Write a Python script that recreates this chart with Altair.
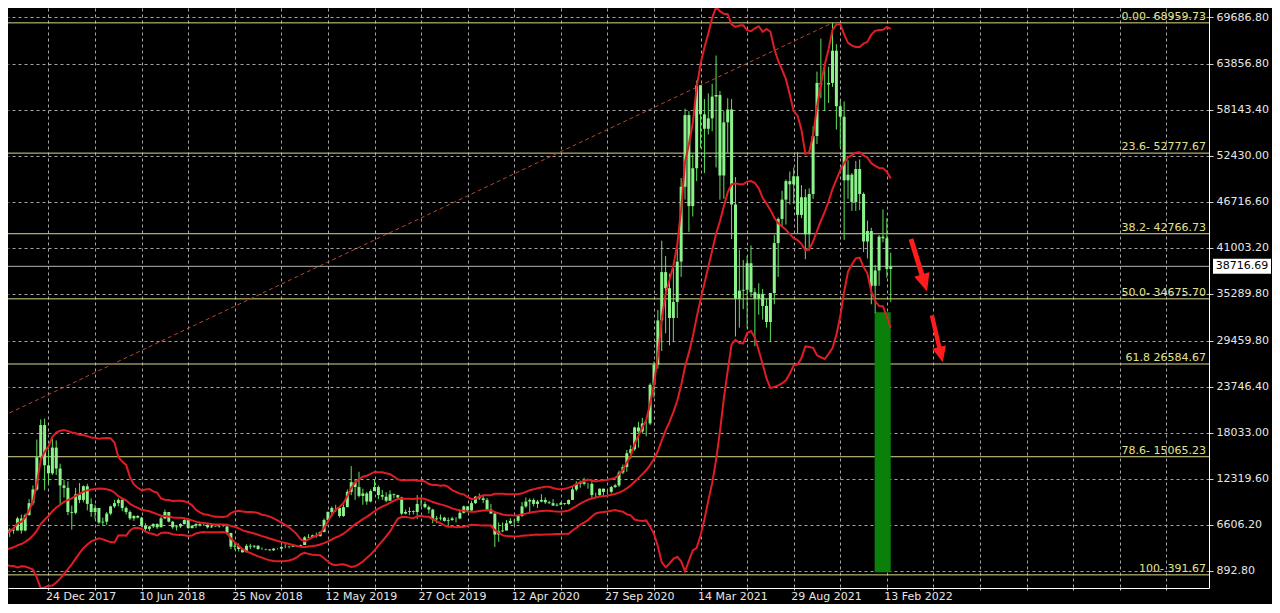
import altair as alt
import pandas as pd

# ---------------- weekly candles (week start Sunday 2017-06-04 .. 2022-02-20) -------------
first_open = 2500
closes_2017 = [2950, 2650, 2600, 2500, 2500, 2000, 2750, 2750, 3200, 4000, 4100, 4350, 4600, 4300, 3700, 3800,
               4350, 4600, 5700, 6000, 5900, 7400, 5900, 7800, 9300, 11000, 15000, 19000, 14000, 13000, 16200]
highs_2017 = [2980, 2980, 2780, 2650, 2650, 2550, 2900, 2800, 3280, 4100, 4480, 4400, 4980, 4700, 4350, 4100,
              4400, 4750, 5850, 6200, 6100, 7600, 7900, 8000, 9800, 11500, 17200, 19700, 19800, 15900, 17300]
lows_2017 = [2450, 2300, 2450, 2330, 2450, 1960, 1840, 2500, 2650, 3200, 3800, 3900, 4300, 4100, 2980, 3500,
             3700, 4150, 4550, 5100, 5500, 5900, 5500, 5800, 7800, 9000, 10800, 14800, 10900, 11800, 12800]

closes_2018 = [13600, 11500, 11200, 8200, 8100, 10400, 9700, 11400, 9200, 8200, 8700, 6900, 7000, 8000, 8900, 9300,
               9700, 8700, 8200, 7400, 7700, 7500, 6500, 6100, 6400, 6700, 6300, 7400, 8200, 7000, 6300, 6400,
               6700, 7200, 6200, 6500, 6700, 6600, 6600, 6300, 6400, 6450, 6400, 6400, 5600, 3900, 4000, 3600,
               3200, 4000, 3900, 4000]
highs_2018 = [17100, 14200, 12200, 12000, 9000, 11200, 11800, 11500, 11700, 9900, 9100, 8700, 7500, 8200, 9000, 9700,
              9900, 9800, 8900, 8400, 7800, 7800, 7600, 6800, 6500, 6800, 6800, 7600, 8500, 8200, 7100, 6600,
              6800, 7300, 7400, 6600, 6800, 6800, 6700, 6700, 6800, 6550, 6500, 6550, 6500, 5600, 4400, 4300,
              3600, 4200, 4250, 4100]
lows_2018 = [12800, 9200, 10000, 7800, 6000, 7900, 9300, 9400, 8400, 7600, 7300, 6700, 6500, 6600, 7800, 8700,
             8900, 8300, 7900, 7200, 7100, 7400, 6300, 5800, 5800, 6200, 6100, 6300, 7300, 6900, 6100, 5900,
             6200, 6650, 6100, 6150, 6200, 6400, 6500, 6150, 6250, 6400, 6250, 6350, 5400, 3600, 3500, 3300,
             3150, 3200, 3600, 3700]

closes_2019 = [3600, 3600, 3550, 3450, 3650, 3650, 3850, 3850, 3900, 4000, 4000, 4100, 5050, 5100, 5300, 5200,
               5700, 7200, 8200, 8700, 8700, 7700, 8800, 10700, 11900, 11300, 10200, 10500, 9500, 10800, 11300, 10300,
               10100, 9600, 10400, 10300, 10000, 8000, 8200, 8300, 8200, 9200, 9200, 8800, 8500, 7300, 7400, 7500,
               7100, 7200, 7400, 7400]
highs_2019 = [4100, 3800, 3650, 3550, 3700, 3700, 4000, 4200, 3950, 4050, 4100, 4150, 5200, 5450, 5400, 5650,
              5800, 7400, 8300, 8900, 9100, 8800, 9100, 11000, 13900, 12200, 13200, 11100, 10700, 11000, 12300, 11500,
              10950, 10650, 10900, 10500, 10350, 10100, 8500, 8800, 8400, 10300, 9900, 9500, 9000, 8600, 7700, 7900,
              7600, 7500, 7600, 7550]
lows_2019 = [3500, 3500, 3450, 3350, 3350, 3550, 3600, 3700, 3700, 3850, 3900, 3900, 4100, 4950, 5000, 5000,
             5150, 5700, 6900, 7600, 8200, 7500, 7600, 8800, 10300, 9700, 10000, 9100, 9100, 9400, 10800, 9800,
             9700, 9400, 9600, 9900, 9700, 7800, 7900, 7800, 7900, 7300, 8900, 8650, 8000, 6800, 6800, 7150,
             7000, 6450, 7100, 6900]

closes_2020 = [8100, 8900, 8400, 9300, 10100, 9900, 9700, 8500, 8000, 5400, 5800, 5900, 6800, 7100, 7100, 7700,
               8900, 9500, 9700, 9200, 9500, 9700, 9400, 9300, 9000, 9100, 9300, 9200, 9700, 11000, 11700, 11900,
               11700, 11700, 10300, 10300, 11100, 10700, 10700, 11300, 11500, 13100, 13800, 15500, 16000, 18700,
               18200, 19200, 19200, 24000, 26500, 32000]
highs_2020 = [8400, 9000, 8900, 9600, 10200, 10500, 10200, 9950, 9200, 8200, 6900, 6900, 7200, 7450, 7300, 7800,
              9450, 10000, 9900, 9900, 9700, 10400, 10000, 9600, 9800, 9300, 9450, 9300, 9750, 11400, 12000, 12100,
              12450, 11800, 12000, 10600, 11100, 11100, 10950, 11450, 11700, 13350, 14100, 15900, 16500, 18800,
              19400, 19900, 19400, 24200, 26900, 33300]
lows_2020 = [7300, 8000, 8200, 8300, 9200, 9700, 9300, 8400, 8000, 3850, 4500, 5700, 5900, 6700, 6600, 6800,
             7600, 8700, 8200, 8900, 8700, 9400, 9200, 9200, 8950, 8900, 9100, 9050, 9100, 9700, 10800, 11200,
             11500, 11100, 9900, 9900, 10200, 10150, 10400, 10500, 11200, 11300, 12900, 13200, 14800, 15800,
             16200, 18000, 17600, 19000, 22400, 26000]

closes_2021 = [38000, 36000, 32300, 34300, 39300, 48600, 57500, 46200, 50900, 61200, 57600, 55800, 57100, 59800,
               60000, 50000, 56600, 58200, 46400, 34700, 35700, 35800, 39100, 35500, 34700, 35300, 33800, 31800,
               35400, 41600, 44600, 47000, 49300, 48900, 49900, 45100, 47300, 42700, 47700, 54900, 61500, 61300,
               61300, 61500, 65500, 58600, 57300, 49400, 50100, 46700, 50800, 47700]
highs_2021 = [41900, 40000, 37800, 38500, 40900, 49700, 58300, 58000, 52600, 61800, 61200, 59500, 60200, 61400,
              64900, 60500, 58000, 59600, 59500, 49800, 40800, 39500, 40000, 41300, 36000, 36600, 35900, 34700,
              35400, 42600, 44800, 48100, 49500, 50500, 51000, 52900, 48800, 48300, 48400, 56100, 62900, 67000,
              63700, 63500, 69000, 66300, 59300, 59200, 51900, 50300, 51800, 52000]
lows_2021 = [28200, 30400, 28900, 29300, 32300, 37400, 47000, 43000, 44900, 49300, 53400, 50300, 55100, 55500,
             51000, 47000, 47100, 52800, 42100, 30000, 31100, 33400, 31000, 34900, 28800, 32700, 32100, 31100,
             29300, 34000, 37400, 43700, 43900, 46400, 46500, 42800, 44700, 39600, 40700, 47100, 53900, 59600,
             58000, 59000, 61000, 55700, 53500, 42000, 47100, 45600, 45600, 45700]

closes_2022 = [41800, 43100, 36300, 38200, 42400, 42200, 38400, 38716.69]
highs_2022 = [47900, 44400, 43500, 38900, 42600, 45800, 44700, 40400]
lows_2022 = [40500, 39700, 34000, 32900, 36300, 41700, 37300, 34300]

closes = closes_2017 + closes_2018 + closes_2019 + closes_2020 + closes_2021 + closes_2022
highs = highs_2017 + highs_2018 + highs_2019 + highs_2020 + highs_2021 + highs_2022
lows = lows_2017 + lows_2018 + lows_2019 + lows_2020 + lows_2021 + lows_2022
opens = [first_open] + closes[:-1]
dates = list(pd.date_range("2017-06-04", periods=len(closes), freq="7D").strftime("%Y-%m-%d"))

# ---------------- annotations ----------------
fib_levels = [68959.73, 52777.67, 42766.73, 34675.70, 26584.67, 15065.23, 391.67]
fib_labels = ["0.00- 68959.73", "23.6- 52777.67", "38.2- 42766.73", "50.0- 34675.70",
              "61.8 26584.67", "78.6- 15065.23", "100- 391.67"]
price_ticks = [892.80, 6606.20, 12319.60, 18033.00, 23746.40, 29459.80, 35289.80,
               41003.20, 46716.60, 52430.00, 58143.40, 63856.80, 69686.80]
date_label_first = "2017-12-24"
date_label_last = "2022-02-13"
last_price = 38716.69
trend_dates = ["2016-02-07", "2021-11-07"]
trend_values = [391.67, 68959.73]
zone_dates = ["2022-01-22", "2022-02-20"]
zone_values = [700, 33000]
arrow_dates = ["2022-04-12", "2022-05-15"]
arrow_values = [38856, 29708]
arrow_angles = [343, 347]
arrow_sizes = [3025, 2320]

# ---------------- styling ----------------
FONT = "DejaVu Sans"
TXT = "#e6e6e6"
GRID = "#a4a4a4"
FIB = "#d8d88a"
FIB_TXT = "#e2e28c"
RED = "#e01c24"
BODY = "#8cf28c"
WICK = "#5fe25f"
PLOT_W, PLOT_H = 1201, 580


def ms(s):
    return int(pd.Timestamp(s).value // 10**6)


t0 = pd.Timestamp(date_label_first)
grid_ms = [int((t0 + pd.Timedelta(days=84 * k)).value // 10**6) for k in range(0, 25)]
T0 = ms(date_label_first)
TL = ms(date_label_last)
P84 = 84 * 86400000

xscale = alt.Scale(type="utc", domain=[ms("2017-10-21"), ms("2023-09-08")])
yscale = alt.Scale(domain=[-1241, 70805], nice=False, zero=False)

xaxis = alt.Axis(
    values=grid_ms,
    labelExpr=(f"(round((datum.value - {T0}) / {P84}) % 2 == 0 && datum.value <= {TL}) ? "
               f"utcFormat(datum.value, '%d %b %Y') : ''"),
    grid=True, gridColor=GRID, gridDash=[3, 3], gridWidth=1,
    domainColor="white", domainWidth=1, tickColor="#d0d0d0", tickSize=2,
    labelColor=TXT, labelFont=FONT, labelFontSize=11, labelAlign="left", labelBaseline="top",
    labelPadding=0, labelOffset=-3, labelOverlap=False, labelFlush=False, title=None,
)
yaxis = alt.Axis(
    orient="right", values=price_ticks, format=".2f",
    grid=True, gridColor=GRID, gridDash=[3, 3], gridWidth=1,
    domainColor="white", domainWidth=1, tickColor="#d0d0d0", tickSize=4,
    labelColor=TXT, labelFont=FONT, labelFontSize=11, labelPadding=3,
    labelOverlap=False, labelFlush=False, title=None,
)


def X(f):
    return alt.X(f"{f}:T", scale=xscale, axis=xaxis)


def Y(f):
    return alt.Y(f"{f}:Q", scale=yscale, axis=yaxis)


candles = pd.DataFrame({"date": dates, "open": opens, "high": highs, "low": lows, "close": closes})
fib_df = pd.DataFrame({"level": fib_levels, "label": fib_labels})
price_df = pd.DataFrame({"price": [last_price]})
trend_df = pd.DataFrame({"date": trend_dates, "value": trend_values})
zone_df = pd.DataFrame({"d0": [zone_dates[0]], "d1": [zone_dates[1]], "v0": [zone_values[0]], "v1": [zone_values[1]]})
arrow_df = pd.DataFrame({"date": arrow_dates, "value": arrow_values, "ang": arrow_angles, "sz": arrow_sizes})

fib_rules = alt.Chart(fib_df).mark_rule(color=FIB, strokeWidth=1).encode(y=Y("level"))
price_rule = alt.Chart(price_df).mark_rule(color="#b4b4b4", strokeWidth=1).encode(y=Y("price"))
trend = alt.Chart(trend_df).mark_line(color="#b4472e", strokeDash=[4, 3], strokeWidth=1, clip=True).encode(
    x=X("date"), y=Y("value"))
zone = alt.Chart(zone_df).mark_rect(color="#0a800a", clip=True).encode(
    x=X("d0"), x2="d1", y=Y("v0"), y2="v1")
wicks = alt.Chart(candles).mark_rule(color=WICK, strokeWidth=1, clip=True).encode(
    x=X("date"), y=Y("low"), y2="high")
bodies = alt.Chart(candles).mark_bar(color=BODY, size=3, clip=True).encode(
    x=X("date"), y=Y("open"), y2="close")
bands = (
    alt.Chart(candles)
    .transform_window(mid="mean(close)", sd="stdevp(close)", frame=[-19, 0])
    .transform_calculate(upper="datum.mid + 2*datum.sd", lower="datum.mid - 2*datum.sd")
    .transform_fold(["upper", "mid", "lower"], as_=["band", "val"])
    .mark_line(color=RED, strokeWidth=2, clip=True)
    .encode(x=X("date"), y=Y("val"), detail="band:N")
)
fib_text = alt.Chart(fib_df).mark_text(
    align="right", baseline="bottom", dy=-1, color=FIB_TXT, font=FONT, fontSize=11
).encode(x=alt.value(1198), y=Y("level"), text="label:N")

ARROW = "M-0.09,-1L0.09,-1L0.09,0.35L0.29,0.35L0,1L-0.29,0.35L-0.09,0.35Z"
arrows = alt.Chart(arrow_df).mark_point(shape=ARROW, filled=True, color="#ff1c1c", opacity=1, strokeWidth=0).encode(
    x=X("date"), y=Y("value"),
    angle=alt.Angle("ang:Q", scale=None), size=alt.Size("sz:Q", scale=None))

BOX = "M-1,-0.26L1,-0.26L1,0.26L-1,0.26Z"
price_box = alt.Chart(price_df).mark_point(shape=BOX, size=58 * 58, filled=True, color="white", opacity=1,
                                           strokeWidth=0).encode(x=alt.value(1234), y=Y("price"))
price_text = alt.Chart(price_df).mark_text(color="black", font=FONT, fontSize=11, align="center",
                                           baseline="middle").encode(
    x=alt.value(1234), y=Y("price"), text=alt.Text("price:Q", format=".2f"))

chart = alt.layer(
    fib_rules, price_rule, trend, zone, wicks, bodies, bands, fib_text, arrows, price_box, price_text
).properties(
    width=PLOT_W, height=PLOT_H,
    padding={"left": 0, "top": 0, "right": 63, "bottom": 16},
    autosize=alt.AutoSizeParams(type="none"),
    background="black",
).configure_view(stroke=None)

chart.save("out.html", embed_options={"renderer": "svg", "actions": False})
